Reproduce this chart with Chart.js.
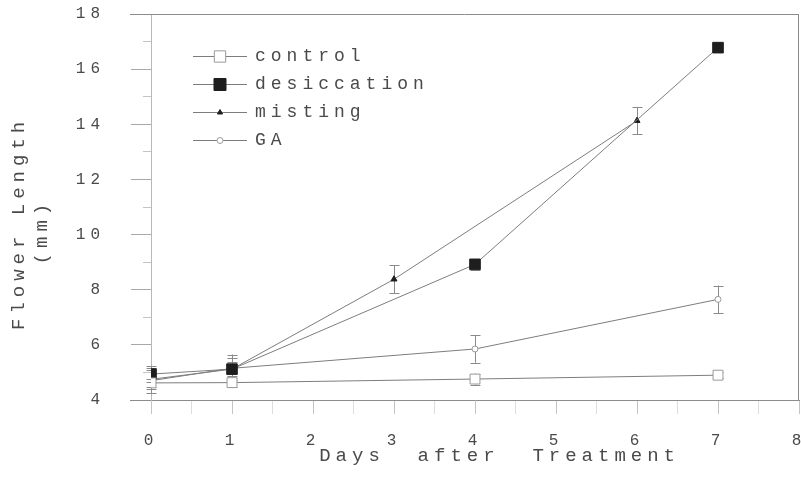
<!DOCTYPE html>
<html>
<head>
<meta charset="utf-8">
<script src="https://cdn.jsdelivr.net/npm/chart.js@4/dist/chart.umd.min.js"></script>
<style>
  html, body { margin: 0; padding: 0; background: #ffffff; }
  #wrap { width: 801px; height: 477px; }
</style>
</head>
<body>
<div id="wrap"><canvas id="c" width="801" height="477"></canvas></div>
<script>
// Flower length (mm) by day after treatment, mean with error
const controlDays = [0, 1, 4, 7];
const controlMean = [4.62, 4.63, 4.76, 4.9];
const controlErr  = [0.15, 0.15, 0.2, 0.12];

const desiccationDays = [0, 1, 4, 7];
const desiccationMean = [4.94, 5.12, 8.92, 16.78];
const desiccationErr  = [0.3, 0.25, 0.2, 0.15];

const mistingDays = [0, 1, 3, 6];
const mistingMean = [4.75, 5.12, 8.38, 14.13];
const mistingErr  = [0.35, 0.4, 0.5, 0.5];

const gaDays = [0, 1, 4, 7];
const gaMean = [4.7, 5.15, 5.85, 7.65];
const gaErr  = [0.45, 0.5, 0.5, 0.5];

const seriesLabels = ['control', 'desiccation', 'misting', 'GA'];
const yTickLabels = [4, 6, 8, 10, 12, 14, 16, 18];
const xTickLabels = [0, 1, 2, 3, 4, 5, 6, 7, 8];
const xTitle = '   Days  after  Treatment';
const yTitle = ['Flower Length  ', '(mm)   '];

const FONT = "'Liberation Mono', 'DejaVu Sans Mono', monospace";
const TEXT = '#4a4a4a';
const LINE = '#7d7d7d';

function pts(xs, ys) { return xs.map((x, i) => ({ x: x, y: ys[i] })); }

// Keep the plot box exactly where the axes say, no extra room for label overhang
function noOverhang(scale) {
  scale.paddingLeft = 0; scale.paddingRight = 0;
  scale.paddingTop = 0; scale.paddingBottom = 0;
}

// Spaced-out typewriter lettering for every text element
const spacing = {
  id: 'spacing',
  beforeDraw(chart) { chart.ctx.letterSpacing = '5px'; }
};

// Vertical error bars with caps, drawn under the markers
const errorBars = {
  id: 'errorBars',
  beforeDatasetsDraw(chart) {
    const ctx = chart.ctx, xs = chart.scales.x, ys = chart.scales.y;
    ctx.save();
    ctx.strokeStyle = '#8a8a8a';
    ctx.lineWidth = 1;
    chart.data.datasets.forEach(ds => {
      ds.data.forEach((p, j) => {
        const e = ds.errors[j];
        const px = Math.round(xs.getPixelForValue(p.x)) + 0.5;
        const top = ys.getPixelForValue(p.y + e);
        const bot = ys.getPixelForValue(p.y - e);
        ctx.beginPath();
        ctx.moveTo(px, top); ctx.lineTo(px, bot);
        ctx.moveTo(px - 5, Math.round(top) + 0.5); ctx.lineTo(px + 5, Math.round(top) + 0.5);
        ctx.moveTo(px - 5, Math.round(bot) + 0.5); ctx.lineTo(px + 5, Math.round(bot) + 0.5);
        ctx.stroke();
      });
    });
    ctx.restore();
  }
};

// Top and right frame lines, plus the axis line running past the y ticks
const frame = {
  id: 'frame',
  afterDraw(chart) {
    const ctx = chart.ctx, a = chart.chartArea;
    const x0 = a.left - 21;
    ctx.save();
    ctx.strokeStyle = '#8c8c8c';
    ctx.lineWidth = 1;
    ctx.beginPath();
    ctx.moveTo(x0, Math.round(a.top) + 0.5); ctx.lineTo(a.right, Math.round(a.top) + 0.5);
    ctx.moveTo(Math.round(a.right) - 0.5, a.top); ctx.lineTo(Math.round(a.right) - 0.5, a.bottom);
    ctx.moveTo(x0, Math.round(a.bottom) + 0.5); ctx.lineTo(a.left, Math.round(a.bottom) + 0.5);
    ctx.stroke();
    ctx.restore();
  }
};

// Legend inside the plot: line sample, marker, label
const insideLegend = {
  id: 'insideLegend',
  afterDatasetsDraw(chart) {
    const ctx = chart.ctx, a = chart.chartArea;
    ctx.save();
    ctx.font = '18px ' + FONT;
    ctx.textBaseline = 'middle';
    ctx.textAlign = 'left';
    chart.data.datasets.forEach((ds, i) => {
      const y = Math.round(a.top + 42 + i * 28) + 0.5;
      const x1 = a.left + 42, x2 = a.left + 96, xm = a.left + 69;
      ctx.strokeStyle = LINE; ctx.lineWidth = 1;
      ctx.beginPath(); ctx.moveTo(x1, y); ctx.lineTo(x2, y); ctx.stroke();
      ctx.fillStyle = ds.pointBackgroundColor;
      ctx.strokeStyle = ds.pointBorderColor;
      ctx.lineWidth = 1;
      Chart.helpers.drawPoint(ctx, {
        pointStyle: ds.pointStyle, radius: ds.legendRadius, rotation: 0, borderWidth: 1
      }, xm, y);
      ctx.fillStyle = TEXT;
      ctx.fillText(ds.label, a.left + 104, y);
    });
    ctx.restore();
  }
};

new Chart(document.getElementById('c'), {
  type: 'line',
  data: {
    datasets: [
      {
        label: seriesLabels[0], data: pts(controlDays, controlMean), errors: controlErr,
        borderColor: LINE, borderWidth: 1, pointStyle: 'rect', pointRadius: 7, legendRadius: 8,
        pointBackgroundColor: '#ffffff', pointBorderColor: '#9a9a9a', pointBorderWidth: 1
      },
      {
        label: seriesLabels[1], data: pts(desiccationDays, desiccationMean), errors: desiccationErr,
        borderColor: LINE, borderWidth: 1, pointStyle: 'rect', pointRadius: 7.5, legendRadius: 8.5,
        pointBackgroundColor: '#1e1e1e', pointBorderColor: '#1e1e1e', pointBorderWidth: 1
      },
      {
        label: seriesLabels[2], data: pts(mistingDays, mistingMean), errors: mistingErr,
        borderColor: LINE, borderWidth: 1, pointStyle: 'triangle', pointRadius: 3.5, legendRadius: 3,
        pointBackgroundColor: '#1e1e1e', pointBorderColor: '#1e1e1e', pointBorderWidth: 1
      },
      {
        label: seriesLabels[3], data: pts(gaDays, gaMean), errors: gaErr,
        borderColor: LINE, borderWidth: 1, pointStyle: 'circle', pointRadius: 3, legendRadius: 3,
        pointBackgroundColor: '#ffffff', pointBorderColor: '#9a9a9a', pointBorderWidth: 1
      }
    ]
  },
  options: {
    responsive: false,
    animation: false,
    devicePixelRatio: 1,
    layout: { autoPadding: false, padding: { top: 14, right: 2, left: 0, bottom: 0 } },
    plugins: { legend: { display: false }, tooltip: { enabled: false } },
    elements: { line: { tension: 0 } },
    scales: {
      x: {
        type: 'linear', min: 0, max: 8,
        afterBuildTicks(scale) {
          const t = [];
          xTickLabels.forEach((v, i) => {
            t.push({ value: v });
            if (i < xTickLabels.length - 1) t.push({ value: v + 0.5 });
          });
          scale.ticks = t;
        },
        afterFit(scale) { scale.height = 77; noOverhang(scale); },
        border: { display: true, color: '#8c8c8c', width: 1 },
        grid: {
          drawOnChartArea: false, tickLength: 14,
          tickColor: ctx => (ctx.tick && ctx.tick.value % 1 === 0) ? '#c4c4c4' : '#dedede'
        },
        ticks: {
          autoSkip: false, maxRotation: 0, padding: 17, color: TEXT,
          font: { family: FONT, size: 16 },
          callback: v => (v % 1 === 0 ? String(v) : '')
        },
        title: {
          display: true, text: xTitle, color: TEXT,
          font: { family: FONT, size: 19 }, padding: { top: 0, bottom: 10 }
        }
      },
      y: {
        type: 'linear', min: 4, max: 18, weight: 1,
        afterBuildTicks(scale) { scale.ticks = yTickLabels.map(v => ({ value: v })); },
        afterFit(scale) { scale.width = 151; noOverhang(scale); },
        border: { display: true, color: '#b8b8b8', width: 1, dash: [3, 3] },
        grid: { drawOnChartArea: false, tickLength: 20, tickColor: '#a8a8a8' },
        ticks: {
          autoSkip: false, padding: 26, color: TEXT,
          font: { family: FONT, size: 16 }
        },
        title: {
          display: true, text: yTitle, color: TEXT,
          font: { family: FONT, size: 19 }, padding: { top: 8, bottom: 0 }
        }
      },
      yMinor: {
        type: 'linear', position: 'left', min: 4, max: 18, weight: 0,
        afterBuildTicks(scale) {
          const t = [];
          for (let i = 0; i < yTickLabels.length - 1; i++) t.push({ value: yTickLabels[i] + 1 });
          scale.ticks = t;
        },
        afterFit(scale) { scale.width = 0; noOverhang(scale); },
        border: { display: false },
        grid: { drawOnChartArea: false, tickLength: 8, tickColor: '#c4c4c4' },
        ticks: { display: false }
      }
    }
  },
  plugins: [spacing, errorBars, frame, insideLegend]
});
</script>
</body>
</html>
